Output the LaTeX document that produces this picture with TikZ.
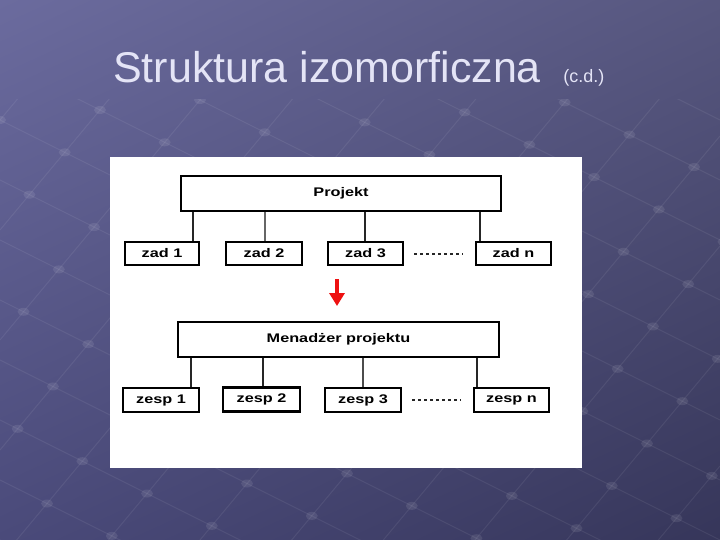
\documentclass[tikz,border=0pt]{standalone}
\usepackage{fontspec}
\setmainfont{Liberation Sans}
\newfontfamily\boxfont[FakeStretch=1.3]{Liberation Sans Bold}
\usetikzlibrary{arrows.meta,calc,shadings}
\definecolor{bgtl}{HTML}{6B6B9E}
\definecolor{bgtr}{HTML}{57577F}
\definecolor{bgbl}{HTML}{4A4A7A}
\definecolor{bgbr}{HTML}{36365A}
\definecolor{titlecol}{HTML}{E4E4F6}
\definecolor{arrowred}{HTML}{EE1111}
\begin{document}
\begin{tikzpicture}[x=1pt,y=-1pt,
  box/.style={draw=black, line width=2.3pt, fill=white, inner sep=0pt,
    font=\boxfont\fontsize{12.5}{14}\selectfont},
  link/.style={draw=black!85, line width=2.2pt},
  dotline/.style={draw=black!85, line width=2pt, dash pattern=on 3pt off 3pt},
  gridline/.style={draw=white, opacity=0.07, line width=1pt},
  griddot/.style={fill=white, opacity=0.09},
  redarrow/.style={draw=arrowred, line width=3.8pt, -{Triangle[width=15pt,length=13pt]}}]
\useasboundingbox (0,0) rectangle (720,540);
\shade[upper left=bgtl, upper right=bgtr, lower left=bgbl, lower right=bgbr] (0,0) rectangle (720,540);
% background grid
\begin{scope}
  \clip (0,100) rectangle (720,540);
  \foreach \a in {-300,-240,...,540} {
    \draw[gridline] (0,\a) -- (720,\a+360);
  }
  \foreach \b in {120,230,...,1480} {
    \draw[gridline] (0,\b) -- (720,\b-864);
  }
  \foreach \a in {-300,-240,...,540} {
    \foreach \b in {120,230,...,1480} {
      \pgfmathsetmacro{\ix}{(\b-\a)/1.7}
      \pgfmathsetmacro{\iy}{0.5*\ix+\a}
      \fill[griddot] (\ix,\iy) ellipse (6pt and 4pt);
    }
  }
\end{scope}
% title
\node[anchor=base west, inner sep=0pt, text=titlecol, font=\fontsize{43}{50}\selectfont] (title) at (113,83) {Struktura izomorficzna};
\node[anchor=base west, inner sep=0pt, text=titlecol, font=\fontsize{18}{20}\selectfont] (cd) at ($(title.base east)+(22,0)$) {(c.d.)};
% white panel
\fill[white] (110,157) rectangle (582,468);
% upper structure
\node[box, minimum width=320pt, minimum height=35pt] (proj) at (341,193.5) {Projekt};
\node[box, minimum width=74pt, minimum height=23pt] (z1) at (162,253.5) {zad 1};
\node[box, minimum width=76pt, minimum height=23pt] (z2) at (264,253.5) {zad 2};
\node[box, minimum width=75pt, minimum height=23pt] (z3) at (365.5,253.5) {zad 3};
\node[box, minimum width=75pt, minimum height=23pt] (zn) at (513.5,253.5) {zad n};
\coordinate (t1) at (193,0);
\coordinate (t2) at (265,0);
\coordinate (t3) at (365,0);
\coordinate (tn) at (480,0);
\draw[link] (proj.south -| t1) -- (z1.north -| t1);
\draw[link, draw=black!60] (proj.south -| t2) -- (z2.north -| t2);
\draw[link] (proj.south -| t3) -- (z3.north -| t3);
\draw[link] (proj.south -| tn) -- (zn.north -| tn);
\draw[dotline] ($(z3.east)+(10,0)$) -- ($(zn.west)+(-12,0)$);
% arrow
\coordinate (arrtop) at (337,279);
\coordinate (arrtip) at (337,306);
\draw[redarrow] (arrtop) -- (arrtip);
% lower structure
\node[box, minimum width=321pt, minimum height=35pt] (men) at (338.5,339.5) {Menadżer projektu};
\node[box, minimum width=76pt, minimum height=24pt] (e1) at (161,400) {zesp 1};
\node[box, minimum width=77pt, minimum height=24pt] (e2) at (261.5,399.5) {zesp 2};
\node[box, minimum width=76pt, minimum height=24pt] (e3) at (363,400) {zesp 3};
\node[box, minimum width=75pt, minimum height=24pt] (en) at (511.5,400) {zesp n};
\coordinate (s1) at (191,0);
\coordinate (s2) at (263,0);
\coordinate (s3) at (363,0);
\coordinate (sn) at (477,0);
\draw[link] (men.south -| s1) -- (e1.north -| s1);
\draw[link] (men.south -| s2) -- (e2.north -| s2);
\draw[link, draw=black!70] (men.south -| s3) -- (e3.north -| s3);
\draw[link] (men.south -| sn) -- (en.north -| sn);
\draw[dotline] ($(e3.east)+(10,0)$) -- ($(en.west)+(-12,0)$);
\end{tikzpicture}
\end{document}
